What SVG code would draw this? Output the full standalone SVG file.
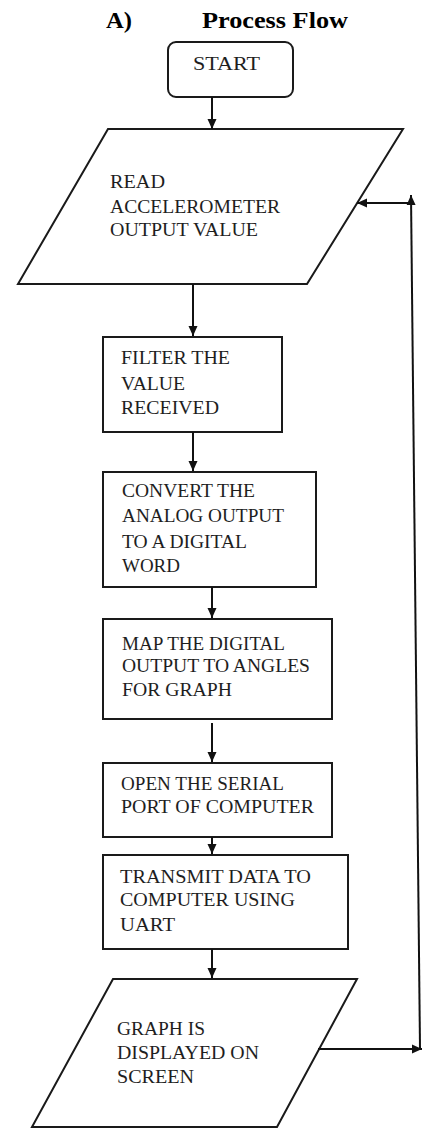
<svg xmlns="http://www.w3.org/2000/svg" width="422" height="1130" viewBox="0 0 422 1130">
<style>
.shape{fill:#fff;stroke:#1a1a1a;stroke-width:2}
.t{font-family:"Liberation Serif","Times New Roman",serif;font-size:18px;fill:#1e1e1e}
.title{font-family:"Liberation Serif","Times New Roman",serif;font-size:24px;font-weight:bold;fill:#000}
.c{fill:none;stroke:#111;stroke-width:2}
</style>
<defs>
<marker id="ah" viewBox="0 0 10 10" refX="10" refY="5" markerWidth="10" markerHeight="10" markerUnits="userSpaceOnUse" orient="auto">
<path d="M0,0.5 L10,5 L0,9.5 Z" fill="#111"/>
</marker>
</defs>
<rect width="422" height="1130" fill="#fff"/>
<g id="title">
<text class="title" x="106" y="28" textLength="26" lengthAdjust="spacingAndGlyphs">A)</text>
<text class="title" x="202" y="28" textLength="146" lengthAdjust="spacingAndGlyphs">Process Flow</text>
</g>
<g id="start">
<rect class="shape" x="168" y="42" width="125" height="55" rx="8"/>
<text class="t" x="193" y="70" textLength="67" lengthAdjust="spacingAndGlyphs">START</text>
</g>
<g id="read">
<polygon class="shape" points="108,129 403,129 307,284 18,284"/>
<text class="t" x="110" y="188" textLength="55" lengthAdjust="spacingAndGlyphs">READ</text>
<text class="t" x="110" y="213" textLength="170" lengthAdjust="spacingAndGlyphs">ACCELEROMETER</text>
<text class="t" x="110" y="236" textLength="148" lengthAdjust="spacingAndGlyphs">OUTPUT VALUE</text>
</g>
<g id="filter">
<rect class="shape" x="103" y="337" width="179" height="95"/>
<text class="t" x="121" y="364" textLength="109" lengthAdjust="spacingAndGlyphs">FILTER THE</text>
<text class="t" x="121" y="390" textLength="64" lengthAdjust="spacingAndGlyphs">VALUE</text>
<text class="t" x="121" y="414" textLength="98" lengthAdjust="spacingAndGlyphs">RECEIVED</text>
</g>
<g id="convert">
<rect class="shape" x="103" y="472" width="213" height="115"/>
<text class="t" x="122" y="497" textLength="133" lengthAdjust="spacingAndGlyphs">CONVERT THE</text>
<text class="t" x="122" y="522" textLength="162" lengthAdjust="spacingAndGlyphs">ANALOG OUTPUT</text>
<text class="t" x="122" y="548" textLength="125" lengthAdjust="spacingAndGlyphs">TO A DIGITAL</text>
<text class="t" x="122" y="572" textLength="58" lengthAdjust="spacingAndGlyphs">WORD</text>
</g>
<g id="map">
<rect class="shape" x="103" y="619" width="229" height="100"/>
<text class="t" x="122" y="650" textLength="163" lengthAdjust="spacingAndGlyphs">MAP THE DIGITAL</text>
<text class="t" x="122" y="672" textLength="188" lengthAdjust="spacingAndGlyphs">OUTPUT TO ANGLES</text>
<text class="t" x="122" y="696" textLength="110" lengthAdjust="spacingAndGlyphs">FOR GRAPH</text>
</g>
<g id="open">
<rect class="shape" x="103" y="763" width="229" height="74"/>
<text class="t" x="121" y="790" textLength="163" lengthAdjust="spacingAndGlyphs">OPEN THE SERIAL</text>
<text class="t" x="121" y="813" textLength="193" lengthAdjust="spacingAndGlyphs">PORT OF COMPUTER</text>
</g>
<g id="transmit">
<rect class="shape" x="103" y="855" width="245" height="94"/>
<text class="t" x="120" y="883" textLength="191" lengthAdjust="spacingAndGlyphs">TRANSMIT DATA TO</text>
<text class="t" x="120" y="906" textLength="175" lengthAdjust="spacingAndGlyphs">COMPUTER USING</text>
<text class="t" x="120" y="931" textLength="55" lengthAdjust="spacingAndGlyphs">UART</text>
</g>
<g id="graph">
<polygon class="shape" points="113,979 357,979 277,1127 32,1127"/>
<text class="t" x="117" y="1035" textLength="88" lengthAdjust="spacingAndGlyphs">GRAPH IS</text>
<text class="t" x="117" y="1059" textLength="142" lengthAdjust="spacingAndGlyphs">DISPLAYED ON</text>
<text class="t" x="117" y="1083" textLength="77" lengthAdjust="spacingAndGlyphs">SCREEN</text>
</g>
<g id="connectors">
<line class="c" x1="212" y1="97" x2="212" y2="129" marker-end="url(#ah)"/>
<line class="c" x1="193" y1="284" x2="193" y2="336" marker-end="url(#ah)"/>
<line class="c" x1="193" y1="432" x2="193" y2="471" marker-end="url(#ah)"/>
<line class="c" x1="212" y1="587" x2="212" y2="618" marker-end="url(#ah)"/>
<line class="c" x1="212" y1="723" x2="212" y2="762" marker-end="url(#ah)"/>
<line class="c" x1="212" y1="837" x2="212" y2="854" marker-end="url(#ah)"/>
<line class="c" x1="212" y1="949" x2="212" y2="978" marker-end="url(#ah)"/>
<line class="c" x1="318" y1="1049" x2="422" y2="1049" marker-end="url(#ah)"/>
<line class="c" x1="420" y1="1048" x2="411" y2="195" marker-end="url(#ah)"/>
<line class="c" x1="411" y1="203" x2="357" y2="203" marker-end="url(#ah)"/>
</g>
</svg>
